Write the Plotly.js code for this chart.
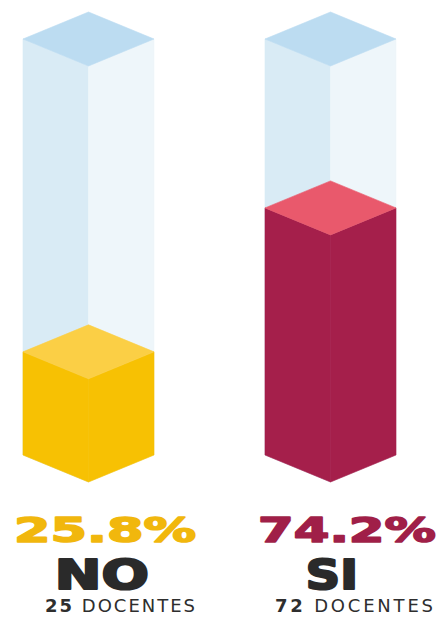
<!DOCTYPE html>
<html>
<head>
<meta charset="utf-8">
<script src="https://cdn.plot.ly/plotly-3.0.1.min.js"></script>
<style>
  html, body { margin: 0; padding: 0; background: #ffffff; }
  #chart { width: 442px; height: 617px; }
</style>
</head>
<body>
<div id="chart"></div>
<script>
// ---- data ----
const categories = ["NO", "SI"];
const percentLabels = ["25.8%", "74.2%"];
const docentes = [25, 72];
// fill level of each column as drawn in the infographic (% of the column height);
// the original artwork is not drawn to scale for the SI column
const drawnFill = [24.8, 59.4];
const columnFull = [100, 100];

// ---- styling / geometry (not data) ----
const halfW = 0.2707;     // half width of an isometric column (x units)
const depth = 6.49;       // half height of the isometric diamond (y units)
const glass = { left: "#d9ebf5", right: "#eef6fa", top: "#bcdcf1" };
const fillCol = [
  { left: "#f7c103", right: "#f7c103", top: "#fbcf45" },
  { left: "#a51f4b", right: "#a51f4b", top: "#e9596c" }
];
const pctColor = ["#f1b70d", "#a01f48"];

function poly(xs, ys, color) {
  return {
    type: "scatter", mode: "lines", x: xs.concat([xs[0]]), y: ys.concat([ys[0]]),
    fill: "toself", fillcolor: color, line: { color: color, width: 0.6 },
    hoverinfo: "skip", showlegend: false
  };
}
function prism(c, y0, y1, col) {
  const w = halfW, d = depth;
  return [
    poly([c - w, c, c, c - w], [y0, y0 - d, y1 - d, y1], col.left),
    poly([c, c + w, c + w, c], [y0 - d, y0, y1, y1 - d], col.right),
    poly([c - w, c, c + w, c], [y1, y1 + d, y1, y1 - d], col.top)
  ];
}

const traces = [];
categories.forEach((cat, i) => {
  traces.push(...prism(i, 0, columnFull[i], glass));
});
categories.forEach((cat, i) => {
  traces.push(...prism(i, 0, drawnFill[i], fillCol[i]));
});

const W = 442, H = 617;
const px = v => v / W, py = v => 1 - v / H;
const pctX = [105, 347], catX = [101.5, 331.5], docX = [120, 354];
const pctW = [182, 178], catW = [94, 52], docW = [150, 158];

const annotations = [];
const stretch = [];   // [target width, stroke width, colour, stretch glyphs?]
categories.forEach((cat, i) => {
  annotations.push({
    xref: "paper", yref: "paper", x: px(pctX[i]), y: py(529.5),
    xanchor: "center", yanchor: "middle", showarrow: false,
    text: "<b>" + percentLabels[i] + "</b>",
    font: { family: "DejaVu Sans", size: 34, color: pctColor[i] }
  });
  stretch.push([pctW[i], 1.6, pctColor[i], true]);
  annotations.push({
    xref: "paper", yref: "paper", x: px(catX[i]), y: py(575),
    xanchor: "center", yanchor: "middle", showarrow: false,
    text: "<b>" + cat + "</b>",
    font: { family: "DejaVu Sans", size: 40, color: "#2a2a2a" }
  });
  stretch.push([catW[i], 2.2, "#2a2a2a", true]);
  annotations.push({
    xref: "paper", yref: "paper", x: px(docX[i]), y: py(605.5),
    xanchor: "center", yanchor: "middle", showarrow: false,
    text: "<b>" + docentes[i] + "</b> DOCENTES",
    font: { family: "DejaVu Sans", size: 18, color: "#2e2e2e" }
  });
  stretch.push([docW[i], 0, "#2e2e2e", false]);
});

const layout = {
  width: W, height: H,
  margin: { l: 0, r: 0, t: 0, b: 0 },
  paper_bgcolor: "#ffffff", plot_bgcolor: "#ffffff",
  xaxis: { range: [-88.5 / 242, (W - 88.5) / 242], visible: false, fixedrange: true },
  yaxis: { range: [(455 - H) / 4.16, 455 / 4.16], visible: false, fixedrange: true },
  annotations: annotations,
  showlegend: false
};

Plotly.newPlot("chart", traces, layout, { staticPlot: true, displayModeBar: false }).then(() => {
  const texts = document.querySelectorAll(".annotation-text");
  texts.forEach((t, k) => {
    const s = stretch[k];
    if (!s) return;
    const target = s[3] ? (t.querySelector("tspan") || t) : t;
    target.setAttribute("textLength", s[0]);
    target.setAttribute("lengthAdjust", s[3] ? "spacingAndGlyphs" : "spacing");
    if (s[1] > 0) {
      t.setAttribute("stroke", s[2]);
      t.setAttribute("stroke-width", s[1]);
      t.setAttribute("stroke-linejoin", "round");
    }
  });
});
</script>
</body>
</html>
